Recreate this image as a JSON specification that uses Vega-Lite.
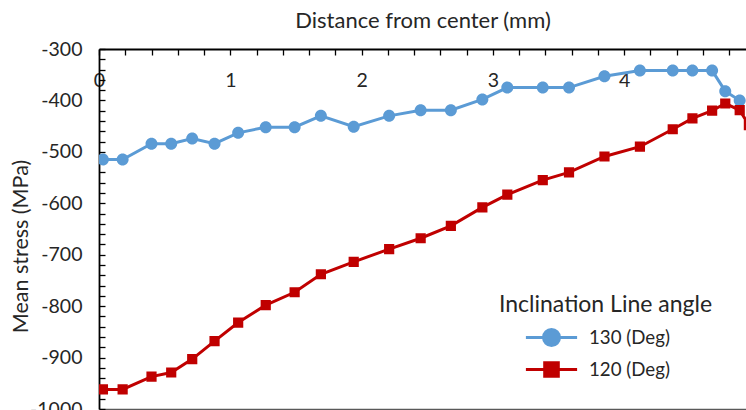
{
  "$schema": "https://vega.github.io/schema/vega-lite/v6.json",
  "width": 647,
  "height": 360,
  "autosize": {"type": "none"},
  "padding": {"left": 99, "top": 49, "right": 0, "bottom": 1},
  "background": "white",
  "config": {
    "view": {"stroke": null},
    "font": "Lato",
    "axis": {"grid": false, "domainColor": "#000000", "domainWidth": 1.8, "tickColor": "#000000", "tickWidth": 1.3, "labelFont": "Lato", "labelColor": "#262626", "titleFont": "Lato", "titleColor": "#262626", "titleFontWeight": "normal"}
  },
  "data": {
    "values": [
      {"d": 0.03, "s": -515, "series": "130 (Deg)"},
      {"d": 0.18, "s": -515, "series": "130 (Deg)"},
      {"d": 0.40, "s": -484, "series": "130 (Deg)"},
      {"d": 0.55, "s": -484, "series": "130 (Deg)"},
      {"d": 0.71, "s": -474, "series": "130 (Deg)"},
      {"d": 0.88, "s": -484, "series": "130 (Deg)"},
      {"d": 1.06, "s": -463, "series": "130 (Deg)"},
      {"d": 1.27, "s": -452, "series": "130 (Deg)"},
      {"d": 1.49, "s": -452, "series": "130 (Deg)"},
      {"d": 1.69, "s": -430, "series": "130 (Deg)"},
      {"d": 1.94, "s": -451, "series": "130 (Deg)"},
      {"d": 2.21, "s": -430, "series": "130 (Deg)"},
      {"d": 2.45, "s": -419, "series": "130 (Deg)"},
      {"d": 2.68, "s": -419, "series": "130 (Deg)"},
      {"d": 2.92, "s": -398, "series": "130 (Deg)"},
      {"d": 3.11, "s": -375, "series": "130 (Deg)"},
      {"d": 3.38, "s": -375, "series": "130 (Deg)"},
      {"d": 3.58, "s": -375, "series": "130 (Deg)"},
      {"d": 3.85, "s": -353, "series": "130 (Deg)"},
      {"d": 4.12, "s": -342, "series": "130 (Deg)"},
      {"d": 4.37, "s": -342, "series": "130 (Deg)"},
      {"d": 4.52, "s": -342, "series": "130 (Deg)"},
      {"d": 4.67, "s": -342, "series": "130 (Deg)"},
      {"d": 4.77, "s": -382, "series": "130 (Deg)"},
      {"d": 4.88, "s": -400, "series": "130 (Deg)"},
      {"d": 0.03, "s": -962, "series": "120 (Deg)"},
      {"d": 0.18, "s": -962, "series": "120 (Deg)"},
      {"d": 0.40, "s": -937, "series": "120 (Deg)"},
      {"d": 0.55, "s": -929, "series": "120 (Deg)"},
      {"d": 0.71, "s": -903, "series": "120 (Deg)"},
      {"d": 0.88, "s": -868, "series": "120 (Deg)"},
      {"d": 1.06, "s": -832, "series": "120 (Deg)"},
      {"d": 1.27, "s": -798, "series": "120 (Deg)"},
      {"d": 1.49, "s": -773, "series": "120 (Deg)"},
      {"d": 1.69, "s": -738, "series": "120 (Deg)"},
      {"d": 1.94, "s": -714, "series": "120 (Deg)"},
      {"d": 2.21, "s": -689, "series": "120 (Deg)"},
      {"d": 2.45, "s": -668, "series": "120 (Deg)"},
      {"d": 2.68, "s": -644, "series": "120 (Deg)"},
      {"d": 2.92, "s": -608, "series": "120 (Deg)"},
      {"d": 3.11, "s": -583, "series": "120 (Deg)"},
      {"d": 3.38, "s": -555, "series": "120 (Deg)"},
      {"d": 3.58, "s": -540, "series": "120 (Deg)"},
      {"d": 3.85, "s": -509, "series": "120 (Deg)"},
      {"d": 4.12, "s": -490, "series": "120 (Deg)"},
      {"d": 4.37, "s": -456, "series": "120 (Deg)"},
      {"d": 4.52, "s": -435, "series": "120 (Deg)"},
      {"d": 4.67, "s": -420, "series": "120 (Deg)"},
      {"d": 4.77, "s": -406, "series": "120 (Deg)"},
      {"d": 4.88, "s": -419, "series": "120 (Deg)"},
      {"d": 4.95, "s": -448, "series": "120 (Deg)"}
    ]
  },
  "encoding": {
    "y": {
      "field": "s", "type": "quantitative",
      "scale": {"domain": [-1000, -300], "nice": false, "zero": false},
      "axis": {
        "title": "Mean stress (MPa)",
        "titleFontSize": 21.5,
        "values": [-1000, -980, -960, -940, -920, -900, -880, -860, -840, -820, -800, -780, -760, -740, -720, -700, -680, -660, -640, -620, -600, -580, -560, -540, -520, -500, -480, -460, -440, -420, -400, -380, -360, -340, -320, -300],
        "labelExpr": "datum.value % 100 == 0 ? '' + datum.value : ''",
        "tickSize": -6,
        "labelFontSize": 19.5,
        "labelPadding": 23,
        "labelOverlap": false,
        "labelFlush": false,
        "titleX": -78,
        "titleY": 197,
        "titleBaseline": "middle"
      }
    },
    "color": {
      "field": "series", "type": "nominal",
      "scale": {"domain": ["130 (Deg)", "120 (Deg)"], "range": ["#5B9BD5", "#C00000"]},
      "legend": {
        "orient": "none",
        "legendX": 400,
        "legendY": 245,
        "title": "Inclination Line angle",
        "titleFont": "Lato",
        "titleFontSize": 23,
        "titleFontWeight": "normal",
        "titleColor": "#262626",
        "titleLimit": 400,
        "titlePadding": 11,
        "labelFont": "Lato",
        "labelFontSize": 18.7,
        "labelColor": "#262626",
        "labelLimit": 300,
        "symbolSize": 256,
        "symbolStrokeWidth": 3,
        "symbolOffset": 43,
        "labelOffset": 28,
        "rowPadding": 4,
        "encode": {
          "symbols": {
            "update": {
              "fill": {"signal": "datum.value == '130 (Deg)' ? '#5B9BD5' : '#C00000'"},
              "stroke": {"signal": "datum.value == '130 (Deg)' ? '#5B9BD5' : '#C00000'"},
              "strokeWidth": {"value": 3},
              "opacity": {"value": 1},
              "fillOpacity": {"value": 1},
              "strokeOpacity": {"value": 1},
              "size": {"value": 256}
            }
          }
        }
      }
    }
  },
  "layer": [
    {
      "mark": {"type": "line", "strokeWidth": 3, "clip": true},
      "encoding": {
        "x": {
          "field": "d", "type": "quantitative",
          "scale": {"domain": [0, 4.928], "nice": false, "zero": false},
          "axis": {
            "orient": "bottom",
            "title": null,
            "labels": false,
            "ticks": false,
            "domainColor": "#595959",
            "domainWidth": 1.5
          }
        },
        "detail": {"field": "series"}
      }
    },
    {
      "mark": {"type": "point", "filled": true, "opacity": 1, "size": 144, "strokeWidth": 0, "clip": true},
      "encoding": {
        "x": {
          "field": "d", "type": "quantitative",
          "scale": {"domain": [0, 4.928], "nice": false, "zero": false},
          "axis": {
            "orient": "top",
            "title": "Distance from center (mm)",
            "titleFontSize": 22,
            "titleY": -29,
            "titleBaseline": "middle",
            "values": [0, 0.2, 0.4, 0.6, 0.8, 1, 1.2, 1.4, 1.6, 1.8, 2, 2.2, 2.4, 2.6, 2.8, 3, 3.2, 3.4, 3.6, 3.8, 4, 4.2, 4.4, 4.6, 4.8],
            "labelExpr": "datum.value % 1 == 0 ? '' + datum.value : ''",
            "tickSize": -6,
            "labelFontSize": 19.5,
            "labelBaseline": "middle",
            "labelPadding": -25,
            "labelFlush": false,
            "labelOverlap": false
          }
        },
        "shape": {
          "field": "series", "type": "nominal",
          "scale": {"domain": ["130 (Deg)", "120 (Deg)"], "range": ["M-3.2,0H3.2M1,0A1,1 0 1,1 -1,0A1,1 0 1,1 1,0Z", "M-3.2,0H3.2M-0.85,-0.85H0.85V0.85H-0.85Z"]}
        }
      }
    }
  ]
}
